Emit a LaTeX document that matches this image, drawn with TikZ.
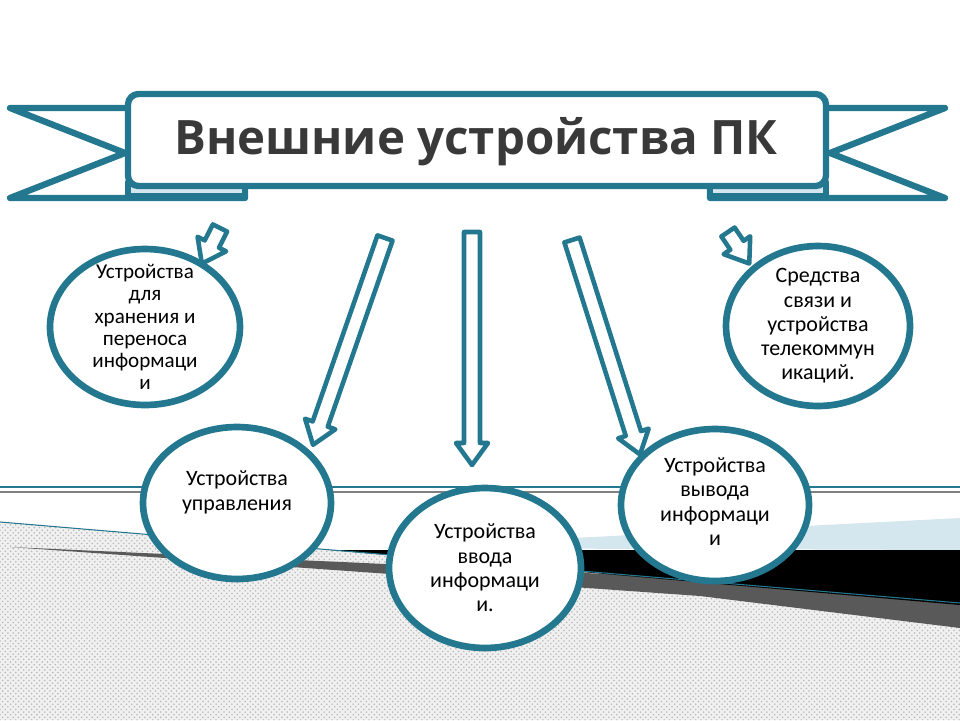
\documentclass[tikz,border=0pt]{standalone}
\usepackage{fontspec}
\setmainfont{Carlito}
\newfontfamily\titlefont{Open Sans}
\usetikzlibrary{patterns,shapes.geometric}
\definecolor{teal1}{HTML}{23788F}
\definecolor{lblue}{HTML}{D4E6EE}
\definecolor{hatch}{HTML}{B8B8B8}
\tikzset{
  bubble/.style = {draw=teal1, line width=3.8pt, fill=white, ellipse, inner sep=0pt},
  bubbletext/.style = {align=center, font=\fontsize{12.5}{13.8}\selectfont},
  band/.style = {draw=teal1, line width=3.6pt, fill=white, line join=round},
  blockarrow/.style = {draw=teal1, line width=2.6pt, fill=white, line join=round}
}
\begin{document}
\begin{tikzpicture}[x=0.02cm, y=-0.02cm]
  \useasboundingbox (0,0) rectangle (960,720);
  % background
  \fill[gray!12] (0,522) -- (960,603) -- (960,720) -- (0,720) -- cycle;
  \fill[pattern=crosshatch dots, pattern color=hatch] (0,522) -- (960,603) -- (960,720) -- (0,720) -- cycle;
  \fill[lblue] (380,548) -- (960,518) -- (960,550) -- cycle;
  \fill[gray!70!black] (10,547) -- (960,590) -- (960,628) -- (700,596) -- cycle;
  \fill[black] (330,550) -- (960,550) -- (960,605) -- cycle;
  \draw[teal1, line width=0.6pt] (0,522) -- (960,603);
  \draw[teal1, line width=0.8pt] (0,487) -- (960,487);
  \draw[gray, line width=0.6pt] (0,492) -- (960,492);

  % banner
  \draw[band] (10,108) -- (135,108) -- (135,188) -- (245,188) -- (245,198) -- (10,198) -- (125,153) -- cycle;
  \draw[band] (945,108) -- (820,108) -- (820,188) -- (710,188) -- (710,198) -- (945,198) -- (830,153) -- cycle;
  \draw[band, fill=lblue] (128,182) rectangle (245,196);
  \draw[band, fill=lblue] (710,182) rectangle (826,196);
  \draw[band, rounded corners=6pt] (128,94) rectangle (826,186);
  \node[text=gray!45!black, inner sep=0pt] (title) at (476,142)
    {\titlefont\bfseries\fontsize{27}{32}\selectfont Внешние устройства ПК};

  % block arrows: x, y, angle, length
  \foreach \ax/\ay/\ang/\len in {220/228/243/40, 385/238/250.8/219, 472/232/-90/233, 572/240/-72.4/225, 728/232/-56/38}{
    \begin{scope}[shift={(\ax,\ay)}, rotate=\ang]
      \draw[blockarrow] (0,8) -- (\len-22,8) -- (\len-22,16) -- (\len,0) -- (\len-22,-16) -- (\len-22,-8) -- (0,-8) -- cycle;
    \end{scope}
  }

  % bubbles
  \node[bubble, minimum width=3.8cm, minimum height=3.12cm,
    label={[bubbletext, font=\fontsize{12}{12.6}\selectfont]center:Устройства\\для\\хранения и\\переноса\\информаци\\и}] (store) at (145,327) {};
  \node[bubble, minimum width=3.68cm, minimum height=3.2cm,
    label={[bubbletext]center:Средства\\связи и\\устройства\\телекоммун\\икаций.}] (comm) at (818,326) {};
  \node[bubble, minimum width=3.76cm, minimum height=3.04cm,
    label={[bubbletext, yshift=6pt]center:Устройства\\управления}] (ctrl) at (237,503) {};
  \node[bubble, minimum width=3.84cm, minimum height=3.2cm,
    label={[bubbletext]center:Устройства\\ввода\\информаци\\и.}] (input) at (485,568) {};
  \node[bubble, minimum width=3.76cm, minimum height=3.04cm,
    label={[bubbletext, yshift=2pt]center:Устройства\\вывода\\информаци\\и}] (output) at (715,505) {};
\end{tikzpicture}
\end{document}
